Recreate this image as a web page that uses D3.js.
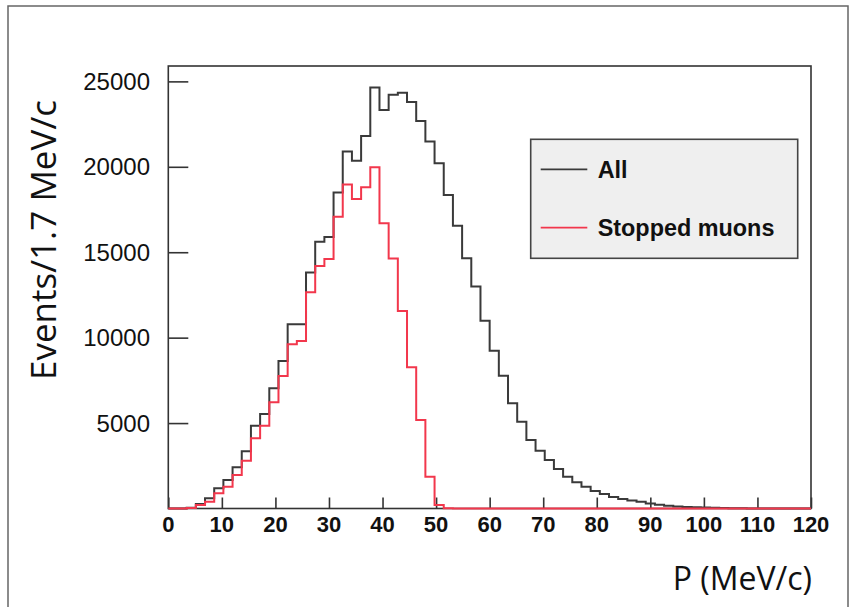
<!DOCTYPE html>
<html>
<head>
<meta charset="utf-8">
<script src="https://cdn.jsdelivr.net/npm/d3@7"></script>
<style>
  html, body { margin: 0; padding: 0; background: #fff; }
  svg { display: block; }
</style>
</head>
<body>
<svg id="chart" width="861" height="607"></svg>
<script>
// ---- data ----
const xRange = [0, 120];
const nBins = 70;
const allCounts = [
  0, 0, 50, 260, 600, 1180, 1670, 2410, 3350, 4850,
  5530, 7040, 8640, 10780, 10780, 13810, 15620, 15890, 18500, 20890,
  20350, 21810, 24640, 23330, 24210, 24340, 23790, 22680, 21475, 20210,
  18355, 16557, 14649, 13000, 10995, 9239, 7775, 6159, 5082, 4011,
  3384, 2840, 2313, 1862, 1534, 1276, 1025, 850, 680, 560,
  470, 390, 300, 220, 165, 120, 95, 75, 55, 40,
  25, 15, 10, 5, 0, 0, 0, 0, 0, 0
];
const stoppedCounts = [
  0, 0, 30, 205, 400, 890, 1280, 1960, 2800, 4110,
  4850, 6220, 7760, 9610, 9810, 12660, 14200, 14610, 17070, 18960,
  18120, 18800, 19980, 16700, 14630, 11560, 8270, 5180, 1860, 200,
  20, 0, 0, 0, 0, 0, 0, 0, 0, 0,
  0, 0, 0, 0, 0, 0, 0, 0, 0, 0,
  0, 0, 0, 0, 0, 0, 0, 0, 0, 0,
  0, 0, 0, 0, 0, 0, 0, 0, 0, 0
];
const xTicks = [0, 10, 20, 30, 40, 50, 60, 70, 80, 90, 100, 110, 120];
const yTicks = [5000, 10000, 15000, 20000, 25000];
const seriesNames = ["All", "Stopped muons"];
const seriesColors = ["#3a3a3a", "#f2374c"];
const yTitle = "Events/1.7 MeV/c";
const xTitle = "P (MeV/c)";

// ---- layout ----
const svg = d3.select("#chart");
const x = d3.scaleLinear().domain(xRange).range([168.3, 811]);
const y = d3.scaleLinear().domain([0, 25900]).range([508.5, 66]);
const binW = (xRange[1] - xRange[0]) / nBins;

svg.append("rect").attr("width", 861).attr("height", 607).attr("fill", "#fff");

// outer border of the picture
svg.append("path")
  .attr("d", "M8,610 L8,6 L848,6 L848,610")
  .attr("fill", "none").attr("stroke", "#666").attr("stroke-width", 1.5);

// histograms
function histPoints(counts) {
  const pts = counts.map((c, i) => [xRange[0] + i * binW, c]);
  pts.push([xRange[1], counts[counts.length - 1]]);
  return pts;
}
const line = d3.line().x(d => x(d[0])).y(d => y(d[1])).curve(d3.curveStepAfter);

// frame
svg.append("rect")
  .attr("x", x(0)).attr("y", y.range()[1])
  .attr("width", x(120) - x(0)).attr("height", y(0) - y.range()[1])
  .attr("fill", "none").attr("stroke", "#333").attr("stroke-width", 1.6);

// y ticks (inward)
const gy = svg.append("g").attr("transform", `translate(${x(0)},0)`);
gy.call(d3.axisRight(y).tickValues(yTicks).tickSize(20).tickFormat(""));
gy.select(".domain").remove();
gy.selectAll(".tick line").attr("stroke", "#333").attr("stroke-width", 1.6);
svg.append("g").selectAll("text").data(yTicks).join("text")
  .attr("x", 150).attr("y", d => y(d) + 8.5)
  .attr("text-anchor", "end")
  .attr("font-family", "Liberation Sans, Arial, sans-serif")
  .attr("font-size", 24).attr("fill", "#111")
  .text(d => d);

// x ticks (inward)
const gx = svg.append("g").attr("transform", `translate(0,${y(0)})`);
gx.call(d3.axisTop(x).tickValues(xTicks).tickSize(11).tickFormat(""));
gx.select(".domain").remove();
gx.selectAll(".tick line").attr("stroke", "#333").attr("stroke-width", 1.6);
svg.append("g").selectAll("text").data(xTicks).join("text")
  .attr("x", d => x(d)).attr("y", 532)
  .attr("text-anchor", "middle")
  .attr("font-family", "Liberation Sans, Arial, sans-serif")
  .attr("font-weight", "bold")
  .attr("font-size", 22).attr("fill", "#111")
  .text(d => d);

svg.append("path").datum(histPoints(allCounts))
  .attr("d", line).attr("fill", "none")
  .attr("stroke", seriesColors[0]).attr("stroke-width", 2);
svg.append("path").datum(histPoints(stoppedCounts))
  .attr("d", line).attr("fill", "none")
  .attr("stroke", seriesColors[1]).attr("stroke-width", 2);

// legend
const lg = svg.append("g");
lg.append("rect").attr("x", 530.7).attr("y", 139.3).attr("width", 267).attr("height", 119)
  .attr("fill", "#efefef").attr("stroke", "#444").attr("stroke-width", 1.6);
const legendY = [169.3, 227.7];
seriesNames.forEach((name, i) => {
  lg.append("line").attr("x1", 540.7).attr("x2", 587.3)
    .attr("y1", legendY[i]).attr("y2", legendY[i])
    .attr("stroke", seriesColors[i]).attr("stroke-width", 1.8);
  lg.append("text").attr("x", 597.7).attr("y", legendY[i] + 8.5)
    .attr("font-family", "Liberation Sans, Arial, sans-serif")
    .attr("font-weight", "bold").attr("font-size", 23.4).attr("fill", "#111")
    .text(name);
});

// axis titles
svg.append("text")
  .attr("transform", "translate(56,240) rotate(-90)")
  .attr("text-anchor", "middle")
  .attr("font-family", "Open Sans, sans-serif")
  .attr("font-size", 35).attr("fill", "#111")
  .text(yTitle);
svg.append("text")
  .attr("x", 812).attr("y", 590)
  .attr("text-anchor", "end")
  .attr("font-family", "Open Sans, sans-serif")
  .attr("font-size", 32).attr("fill", "#111")
  .text(xTitle);
</script>
</body>
</html>
